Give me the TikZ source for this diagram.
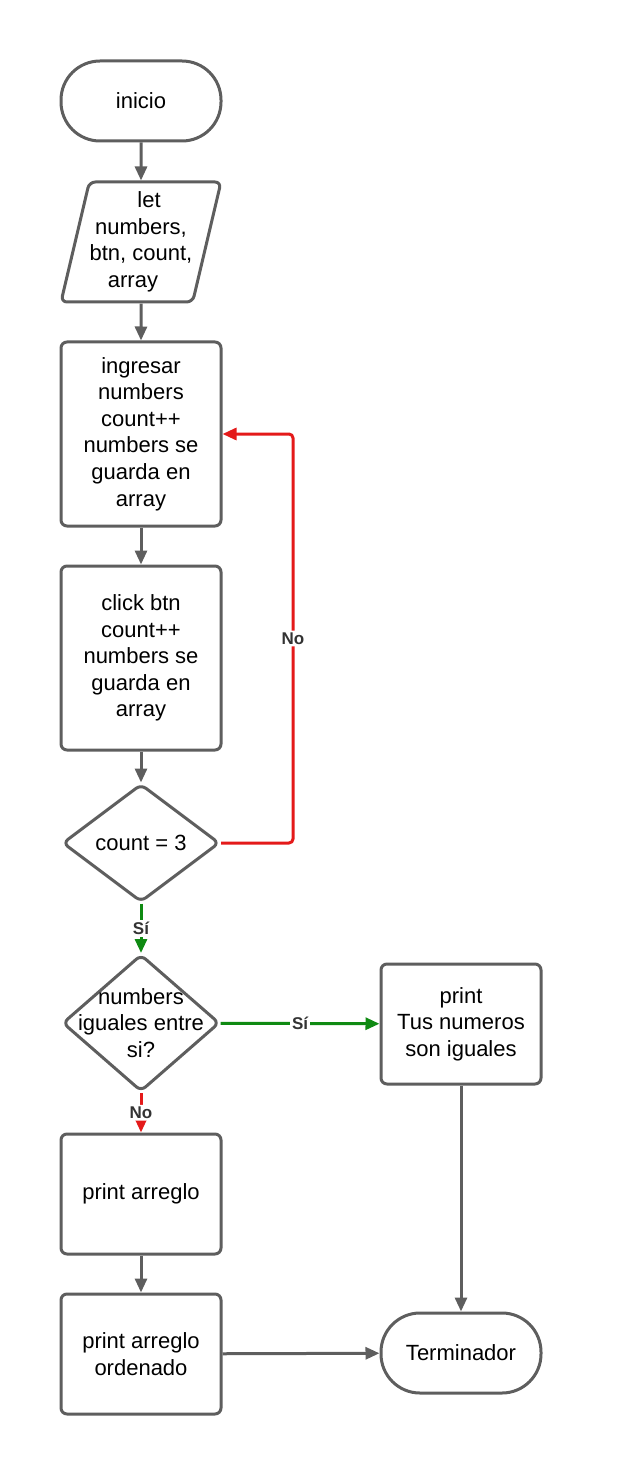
\documentclass[tikz,border=0pt]{standalone}
\usepackage{fontspec}
\setmainfont{Liberation Sans}
\usetikzlibrary{shapes.geometric,arrows.meta}
\definecolor{lgray}{HTML}{5E5E5E}
\definecolor{nored}{HTML}{E41A1A}
\definecolor{sigreen}{HTML}{0F8A12}
\definecolor{tagtext}{HTML}{333333}
\begin{document}
\begin{tikzpicture}[x=0.5pt,y=-0.5pt,>={Triangle[length=7pt,width=6pt]},line join=round,
	font=\fontsize{11}{13.3}\selectfont,
	every node/.style={align=center,text=black},
	box/.style={draw=lgray,line width=1.5pt,rounded corners=3pt,minimum width=80pt,minimum height=60pt},
	tall/.style={box,minimum height=92pt},
	term/.style={box,minimum height=40pt,rounded corners=19.5pt},
	io/.style={trapezium,trapezium left angle=76,trapezium right angle=104,trapezium stretches body,draw=lgray,line width=1.5pt,rounded corners=3pt,minimum width=80pt,minimum height=60pt,inner xsep=0pt},
	decision/.style={diamond,draw=lgray,line width=1.5pt,rounded corners=3pt,minimum width=78.5pt,minimum height=59pt,inner sep=0pt},
	flow/.style={draw=lgray,line width=1.5pt,->},
	yes/.style={draw=sigreen,line width=1.5pt,->},
	no/.style={draw=nored,line width=1.5pt,->,rounded corners=2pt},
	tag/.style={fill=white,font=\fontsize{8.5}{9}\selectfont\bfseries,text=tagtext,inner sep=1pt}]
	\useasboundingbox (0,0) rectangle (637,1476);
	% nodos
	\node[term] (ini) at (141,101) {inicio};
	\node[io] (let) at (141,242) {\hspace*{8pt}let\\numbers,\\btn, count,\\array\hspace*{8pt}};
	\node[tall] (ing) at (141,434) {ingresar\\numbers\\count++\\numbers se\\guarda en\\array};
	\node[tall] (clk) at (141,658) {click btn\\count++\\numbers se\\guarda en\\array};
	\node[decision] (cnt) at (141,843) {count = 3};
	\node[decision,minimum height=68.5pt,label={[align=center]center:numbers\\iguales entre\\si?}] (eq) at (141,1023) {};
	\node[box] (prn) at (461,1024) {print\\Tus numeros\\son iguales};
	\node[box] (arr) at (141,1194) {print arreglo};
	\node[box] (ord) at (141,1354) {print arreglo\\ordenado};
	\node[term] (fin) at (461,1353) {Terminador};
	% flechas
	\draw[flow] (ini) -- (let);
	\draw[flow] (let) -- (ing);
	\draw[flow] (ing) -- (clk);
	\draw[flow] (clk) -- (cnt);
	\draw[no] (cnt.east) -- ++(72,0) |- node[tag,pos=0.25]{No} (ing.east);
	\draw[yes] (cnt) -- node[tag]{Sí} (eq);
	\draw[yes] (eq) -- node[tag]{Sí} (prn);
	\draw[no] (eq) -- node[tag]{No} (arr);
	\draw[flow] (arr) -- (ord);
	\draw[flow] (ord) -- (fin);
	\draw[flow] (prn) -- (fin);
\end{tikzpicture}
\end{document}
